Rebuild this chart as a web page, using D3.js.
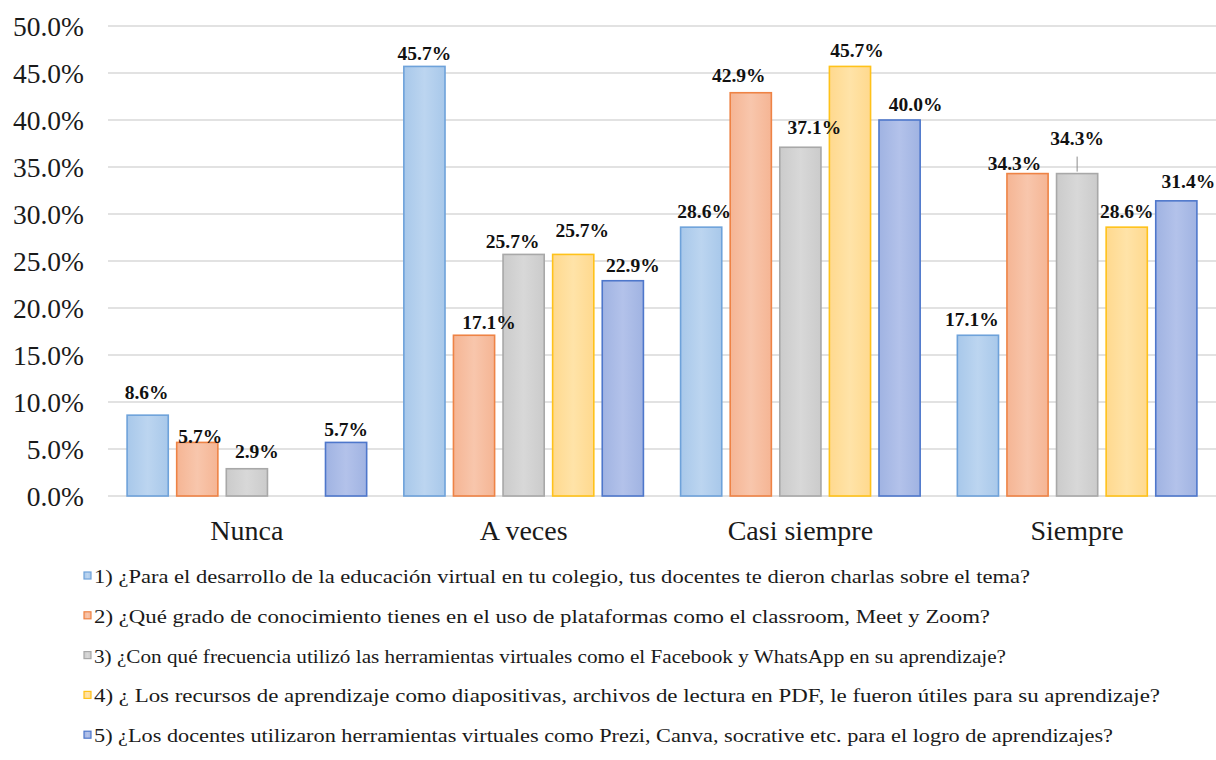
<!DOCTYPE html>
<html><head><meta charset="utf-8">
<script src="https://cdn.jsdelivr.net/npm/d3@7"></script>
<style>
html,body{margin:0;padding:0;background:#fff;}
svg{display:block;}
</style></head>
<body>
<svg id="chart" width="1216" height="760"></svg>
<script>
// ---- data ----
const categories = ["Nunca", "A veces", "Casi siempre", "Siempre"];
const seriesNames = [
  "1) ¿Para el desarrollo de la educación virtual en tu colegio, tus docentes te dieron charlas sobre el tema?",
  "2) ¿Qué grado de conocimiento tienes en el uso de plataformas como el classroom, Meet y Zoom?",
  "3) ¿Con qué frecuencia utilizó las herramientas virtuales como el Facebook y WhatsApp en su aprendizaje?",
  "4) ¿ Los recursos de aprendizaje como diapositivas, archivos de lectura en PDF, le fueron útiles para su aprendizaje?",
  "5) ¿Los docentes utilizaron herramientas virtuales como Prezi, Canva, socrative etc. para el logro de aprendizajes?"
];
const series1 = [8.6, 45.7, 28.6, 17.1];
const series2 = [5.7, 17.1, 42.9, 34.3];
const series3 = [2.9, 25.7, 37.1, 34.3];
const series4 = [null, 25.7, 45.7, 28.6];
const series5 = [5.7, 22.9, 40.0, 31.4];
const yTicks = [0, 5, 10, 15, 20, 25, 30, 35, 40, 45, 50];

// ---- styles / layout ----
const FONT = "'Liberation Serif', 'Times New Roman', serif";
const fills = ["#A8C8EA", "#F5B594", "#CBCBCB", "#FFD98E", "#A0B3E2"];
const fillsLight = ["#BCD5F0", "#F8C6AC", "#D8D8D8", "#FFE3A8", "#B3C2EA"];
const strokes = ["#6EA2DA", "#EE8345", "#A8A8A8", "#FFC21A", "#4E77CB"];
// label nudges in px [series][category] = [dx, dy]
const labelNudge = [
  [[-1,-10],[0,0],[3,-3],[-6,-3]],
  [[3,7],[15,0],[-12,-5],[-13,2]],
  [[10,-5],[-11,0],[14,-7],[0,-23]],
  [[0,0],[9,-11],[7,-3],[0,-3]],
  [[0,0],[10,-3],[16,-3],[12,-7]]
];
// legend text widths in px (layout)
const legendWidths = [936, 896, 912, 1066, 1019];

const allSeries = [series1, series2, series3, series4, series5];
const svg = d3.select("#chart").attr("font-family", FONT);
const defs = svg.append("defs");
fills.forEach((c, i) => {
  const g = defs.append("linearGradient").attr("id", "g" + i)
    .attr("x1", "0").attr("y1", "0").attr("x2", "1").attr("y2", "0");
  g.append("stop").attr("offset", "0").attr("stop-color", c);
  g.append("stop").attr("offset", "0.5").attr("stop-color", fillsLight[i]);
  g.append("stop").attr("offset", "1").attr("stop-color", c);
});

const y = d3.scaleLinear().domain([0, 50]).range([496, 26]);
const x0 = d3.scaleBand().domain(categories).range([108.5, 1215.5]).padding(0);
const groupW = 248;
const bw = x0.bandwidth();
const x1 = d3.scaleBand().domain(d3.range(5))
  .range([(bw - groupW) / 2, (bw + groupW) / 2])
  .paddingInner(0.17).paddingOuter(0.085);

// gridlines
svg.append("g").selectAll("line").data(yTicks).join("line")
  .attr("x1", 108).attr("x2", 1216)
  .attr("y1", d => y(d)).attr("y2", d => y(d))
  .attr("stroke", "#D9D9D9").attr("stroke-width", 1.6);

// y axis labels
const yAxis = d3.axisLeft(y).tickValues(yTicks).tickSize(0).tickPadding(0)
  .tickFormat(d => d3.format(".1f")(d) + "%");
const ya = svg.append("g").attr("transform", "translate(84,0)").call(yAxis)
  .attr("font-family", FONT);
ya.select(".domain").remove();
ya.selectAll("text").attr("font-size", 27.5).attr("fill", "#1a1a1a").attr("dy", "0.34em");

// bars
const groups = svg.append("g").selectAll("g").data(categories).join("g")
  .attr("transform", d => `translate(${x0(d)},0)`);
allSeries.forEach((s, si) => {
  groups.filter((c, ci) => s[ci] != null)
    .append("rect")
    .attr("x", x1(si)).attr("width", x1.bandwidth())
    .attr("y", (c) => y(s[categories.indexOf(c)]))
    .attr("height", (c) => y(0) - y(s[categories.indexOf(c)]))
    .attr("fill", `url(#g${si})`).attr("stroke", strokes[si]).attr("stroke-width", 1.6);
});

// leader line for Siempre / series 3
{
  const ci = 3, si = 2;
  const cx = x0(categories[ci]) + x1(si) + x1.bandwidth() / 2;
  svg.append("line").attr("x1", cx).attr("x2", cx)
    .attr("y1", y(allSeries[si][ci]) - 17).attr("y2", y(allSeries[si][ci]) - 2)
    .attr("stroke", "#8c8c8c").attr("stroke-width", 1);
}

// data labels
allSeries.forEach((s, si) => {
  s.forEach((v, ci) => {
    if (v == null) return;
    const cx = x0(categories[ci]) + x1(si) + x1.bandwidth() / 2;
    const n = labelNudge[si][ci];
    svg.append("text").attr("x", cx + n[0]).attr("y", y(v) - 6 + n[1])
      .attr("text-anchor", "middle").attr("font-size", 19.5).attr("font-weight", "bold")
      .attr("font-family", FONT)
      .attr("fill", "#111").text(d3.format(".1f")(v) + "%");
  });
});

// x axis labels
const xAxis = d3.axisBottom(x0).tickSize(0).tickPadding(0);
const xa = svg.append("g").attr("transform", "translate(0,520)").call(xAxis)
  .attr("font-family", FONT);
xa.select(".domain").remove();
xa.selectAll("text").attr("font-size", 28).attr("fill", "#1a1a1a").attr("dy", "0.71em");

// legend
const legend = svg.append("g");
seriesNames.forEach((name, i) => {
  const yy = 583 + i * 39.8;
  legend.append("rect").attr("x", 84).attr("y", yy - 11).attr("width", 7).attr("height", 7)
    .attr("fill", `url(#g${i})`).attr("stroke", strokes[i]).attr("stroke-width", 1.2);
  legend.append("text").attr("x", 94).attr("y", yy).attr("font-size", 19)
    .attr("font-family", FONT)
    .attr("textLength", legendWidths[i]).attr("lengthAdjust", "spacingAndGlyphs")
    .attr("fill", "#1a1a1a").text(name);
});
</script>
</body></html>
